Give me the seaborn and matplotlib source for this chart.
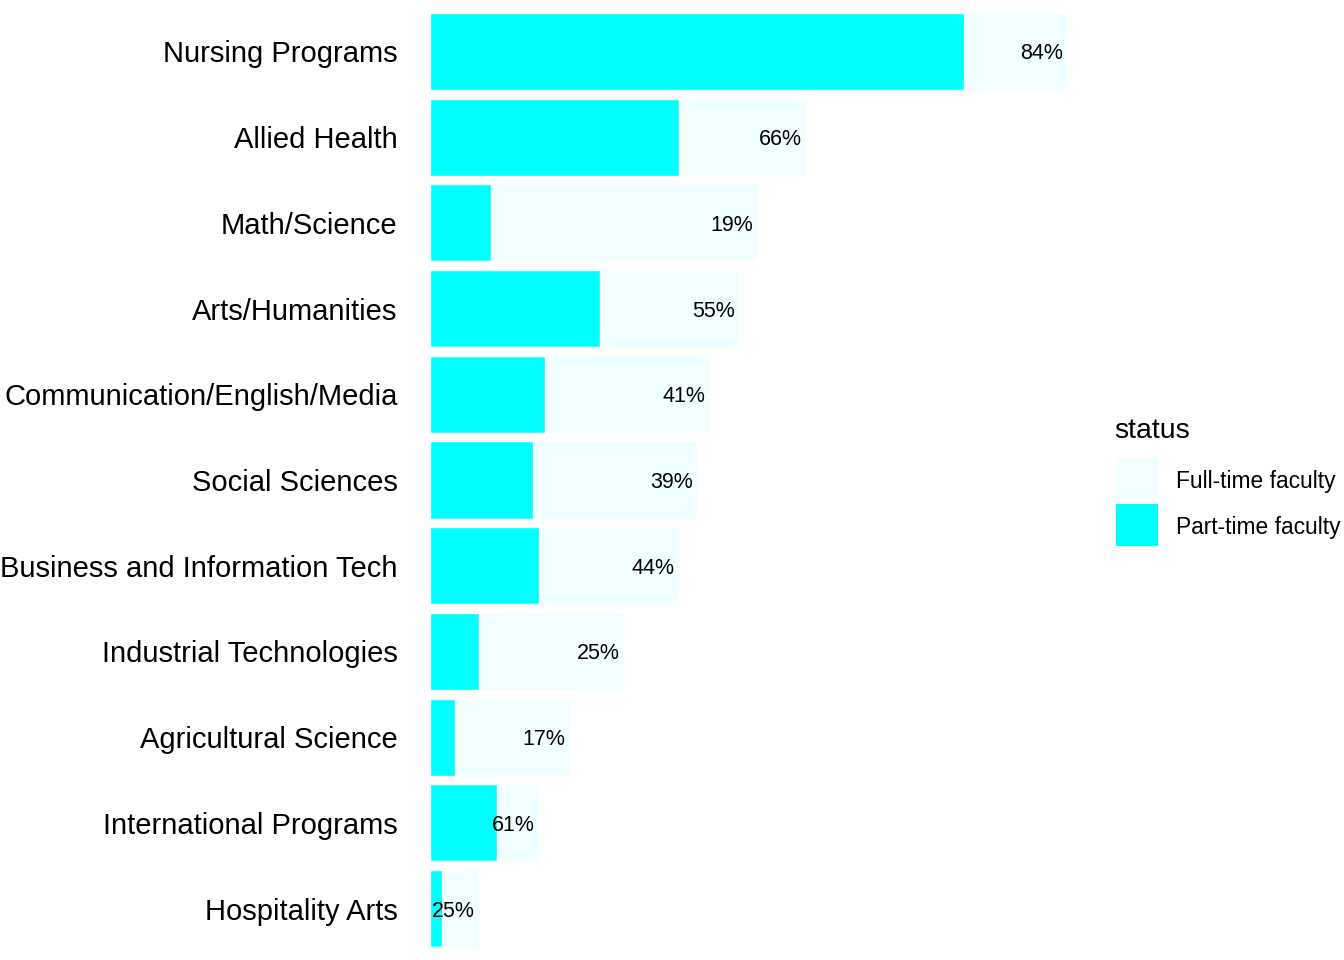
import numpy as np
import pandas as pd
import seaborn as sns
import matplotlib.pyplot as plt
from matplotlib.patches import Rectangle

# data (faculty counts per program)
programs = ['Nursing Programs', 'Allied Health', 'Math/Science', 'Arts/Humanities',
            'Communication/English/Media', 'Social Sciences', 'Business and Information Tech',
            'Industrial Technologies', 'Agricultural Science', 'International Programs',
            'Hospitality Arts']
total_faculty = [105, 62, 54, 51, 46, 44, 41, 32, 23, 18, 8]
part_time = [88, 41, 10, 28, 19, 17, 18, 8, 4, 11, 2]
status_labels = ['Full-time faculty', 'Part-time faculty']
status_colors = ['#F0FFFF', '#00FFFF']

df = pd.DataFrame({'program': programs, 'total': total_faculty, 'part': part_time})
df['pct'] = np.round(df['part'] / df['total'] * 100).astype(int)

sns.set_theme(style='white')
plt.rcParams['font.family'] = ['Liberation Sans', 'DejaVu Sans']
plt.rcParams['text.color'] = 'black'

fig = plt.figure(figsize=(13.44, 9.6), dpi=100)
W, H = 1344, 960
ax = fig.add_axes([398.5 / W, 0, 700 / W, 1])

sns.barplot(data=df, x='total', y='program', color=status_colors[0], saturation=1,
            width=0.9, orient='h', ax=ax)
sns.barplot(data=df, x='part', y='program', color=status_colors[1], saturation=1,
            width=0.9, orient='h', ax=ax)

for i, row in df.iterrows():
    ax.annotate(f"{row['pct']}%", xy=(row['total'], i), xytext=(-3, 0),
                textcoords='offset points', ha='right', va='center_baseline',
                fontsize=15.5, color='black')

xmax = max(total_faculty)
ax.set_xlim(-0.05 * xmax, 1.05 * xmax)
ax.set_ylim(len(programs) - 0.4, -0.6)
ax.set_xlabel('')
ax.set_ylabel('')
ax.set_xticks([])
ax.tick_params(axis='y', length=0, pad=0.8, labelsize=21, labelcolor='black')
for s in ax.spines.values():
    s.set_visible(False)

# legend drawn by hand, ggplot style
fig.text(1114 / W, 1 - 428 / H, 'status', fontsize=20.5, ha='left',
         va='center_baseline', color='black')
for k, (lab, col) in enumerate(zip(status_labels, status_colors)):
    top = 458 + k * 46
    fig.patches.append(Rectangle((1116 / W, 1 - (top + 42) / H), 42 / W, 42 / H,
                                 facecolor=col, edgecolor='none', transform=fig.transFigure))
    fig.text(1176 / W, 1 - (top + 21) / H, lab, fontsize=16.4, ha='left',
             va='center_baseline', color='black')

fig.savefig('out.png', dpi=100, facecolor='white')
